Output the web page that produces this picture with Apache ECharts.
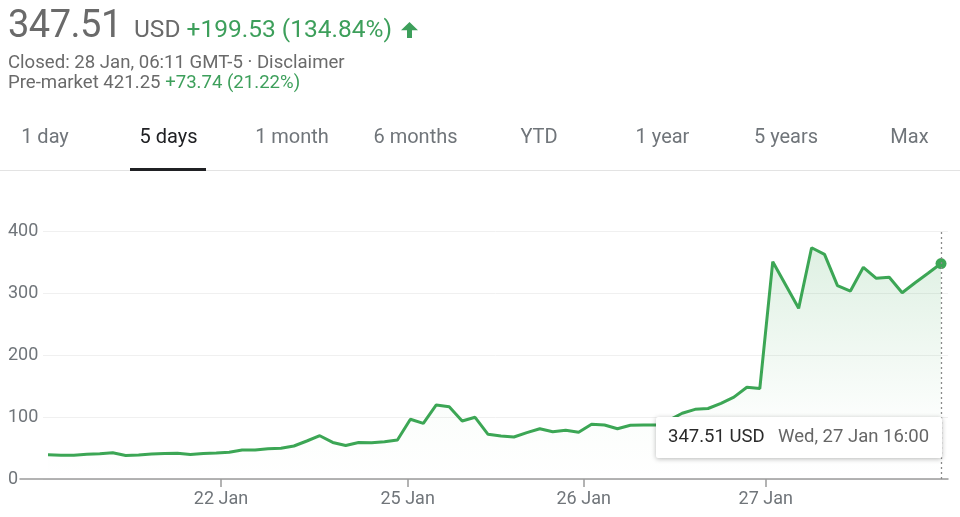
<!DOCTYPE html>
<html>
<head>
<meta charset="utf-8">
<script src="https://cdn.jsdelivr.net/npm/echarts@6/dist/echarts.min.js"></script>
<style>
html,body{margin:0;padding:0;background:#fff;}
body{width:960px;height:517px;position:relative;overflow:hidden;font-family:Roboto,"Noto Sans",sans-serif;}
#chart{position:absolute;left:0;top:0;width:960px;height:517px;}
.ln{position:absolute;left:8px;white-space:nowrap;}
.g{color:#3d9f5b;}
.tab{position:absolute;top:126px;font-size:20px;line-height:20px;color:#70757a;white-space:nowrap;transform:translateX(-50%);}
.tab.on{color:#202124;}
</style>
</head>
<body>
<div id="chart"></div>
<div class="ln" style="top:2px;font-size:38px;line-height:44px;color:#6a6a6a;letter-spacing:-0.5px;">347.51<span style="font-size:24.5px;letter-spacing:0;color:#6a6a6a;">&nbsp; USD </span><span class="g" style="font-size:24.5px;letter-spacing:0;">+199.53 (134.84%)</span></div>
<svg style="position:absolute;left:401px;top:21.5px;" width="17" height="16" viewBox="0 0 17 16"><path fill="#3d9f5b" d="M8.5 0 L17 8.3 L11 8.3 L11 16 L6 16 L6 8.3 L0 8.3 Z"/></svg>
<div class="ln" style="top:51.5px;font-size:18.6px;line-height:20px;color:#6a6a6a;">Closed: 28 Jan, 06:11 GMT-5 · Disclaimer</div>
<div class="ln" style="top:72.2px;font-size:18.6px;line-height:20px;color:#6a6a6a;">Pre-market 421.25 <span class="g">+73.74 (21.22%)</span></div>
<div id="tabs"></div>
<div style="position:absolute;left:0;top:170px;width:960px;height:1px;background:#e3e3e3;"></div>
<div style="position:absolute;left:130px;top:168px;width:76px;height:3px;background:#202124;"></div>
<script>
// ---- data ----
const tabLabels = ['1 day','5 days','1 month','6 months','YTD','1 year','5 years','Max'];
const activeTab = 1;
const dayLabels = ['22 Jan','25 Jan','26 Jan','27 Jan'];
const dayTickPos = [13.37, 27.79, 41.39, 55.46];
const jan21 = [39.0,38.5,38.4,39.8,40.8,42.2,38.0,38.6,40.3,41.2,41.5,39.4,41.2,41.8];
const jan22 = [43.0,46.8,46.8,48.9,49.5,53.2,61.3,69.8,59.0,54.0,59.0,58.5,60.0,63.0];
const jan25 = [96.3,89.8,119.4,116.6,93.5,99.5,72.1,69.4,67.7,74.7,81.1,76.3,78.5,75.3];
const jan26 = [88.2,87.1,81.1,86.6,87.0,87.2,95.0,106.0,112.4,113.7,122.0,132.0,148.0,146.0];
const jan27 = [350.5,313.0,275.3,373.0,362.4,311.8,303.2,341.5,323.7,325.3,300.5,316.6,331.8,347.51];
const yMin = 0, yMax = 400, yStep = 100;
const tipPrice = '347.51 USD';
const tipTime = 'Wed, 27 Jan 16:00';

// tabs
const tabsEl = document.getElementById('tabs');
tabLabels.forEach((t, k) => {
  const s = document.createElement('div');
  s.className = 'tab' + (k === activeTab ? ' on' : '');
  s.style.left = (45 + 123.5 * k) + 'px';
  s.textContent = t;
  tabsEl.appendChild(s);
});

const values = [].concat(jan21, jan22, jan25, jan26, jan27);
const seriesData = values.map((v, i) => [i, v]);
const lastIdx = values.length - 1;
const GREEN = '#3ca655';
const AXIS = '#9a9a9a';

const chart = echarts.init(document.getElementById('chart'), null, {renderer: 'canvas'});
const option = {
  animation: false,
  backgroundColor: '#fff',
  grid: [
    {left: 43, right: 12, top: 231, bottom: 38},
    {left: 20, right: 12, top: 231, bottom: 38}
  ],
  xAxis: [
    {gridIndex: 0, type: 'value', min: 0, max: 1, show: false},
    {
      gridIndex: 1, type: 'value', min: -2.164, max: 69.54,
      axisLine: {show: true, lineStyle: {color: AXIS, width: 1.5}},
      axisTick: {show: true, customValues: dayTickPos, length: 8, lineStyle: {color: AXIS, width: 1.5}},
      axisLabel: {
        customValues: dayTickPos, margin: 11, fontSize: 18, color: '#70757a', fontFamily: 'Roboto',
        formatter: v => { const k = dayTickPos.indexOf(v); return k >= 0 ? dayLabels[k] : ''; }
      },
      splitLine: {show: false}
    }
  ],
  yAxis: [
    {
      gridIndex: 0, type: 'value', min: yMin, max: yMax, interval: yStep,
      axisLabel: {show: false}, axisLine: {show: false}, axisTick: {show: false},
      splitLine: {show: true, lineStyle: {color: '#f0f0f0', width: 1}}
    },
    {
      gridIndex: 1, type: 'value', min: yMin, max: yMax, interval: yStep,
      axisLabel: {align: 'left', margin: 12, fontSize: 18, color: '#70757a', fontFamily: 'Roboto'},
      axisLine: {show: false}, axisTick: {show: false}, splitLine: {show: false}
    }
  ],
  series: [
    {
      type: 'line', xAxisIndex: 1, yAxisIndex: 1, data: seriesData,
      symbol: 'none', lineStyle: {color: GREEN, width: 3}, z: 3,
      areaStyle: {
        color: new echarts.graphic.LinearGradient(0, 0, 0, 1, [
          {offset: 0, color: 'rgba(60,166,85,0.24)'},
          {offset: 0.7, color: 'rgba(60,166,85,0.03)'},
          {offset: 1, color: 'rgba(60,166,85,0)'}
        ])
      },
      markLine: {
        silent: true, symbol: ['none', 'none'], label: {show: false},
        lineStyle: {color: '#8a8a8a', width: 1.3, type: [2, 3]},
        data: [{xAxis: lastIdx}]
      }
    },
    {
      type: 'scatter', xAxisIndex: 1, yAxisIndex: 1,
      data: [[lastIdx, values[lastIdx]]], symbolSize: 11,
      itemStyle: {color: GREEN, opacity: 1}, z: 4, silent: true
    }
  ]
};
chart.setOption(option);

const p = chart.convertToPixel({gridIndex: 1}, [lastIdx, values[lastIdx]]);
const boxTop = chart.convertToPixel({yAxisIndex: 1}, 100);
const boxW = 286, boxH = 41;
const boxL = p[0] + 1 - boxW;
chart.setOption({
  graphic: [
    {type: 'rect', z: 100, shape: {x: boxL, y: boxTop, width: boxW, height: boxH, r: 2},
     style: {fill: '#fff', shadowBlur: 5, shadowColor: 'rgba(0,0,0,0.28)', shadowOffsetY: 1}},
    {type: 'text', z: 101, x: boxL + 12, y: boxTop + boxH / 2,
     style: {text: tipPrice, font: '18.5px Roboto', fill: '#2a2a2a', verticalAlign: 'middle'}},
    {type: 'text', z: 101, x: boxL + 122, y: boxTop + boxH / 2,
     style: {text: tipTime, font: '18.5px Roboto', fill: '#666666', verticalAlign: 'middle'}}
  ]
});
</script>
</body>
</html>
